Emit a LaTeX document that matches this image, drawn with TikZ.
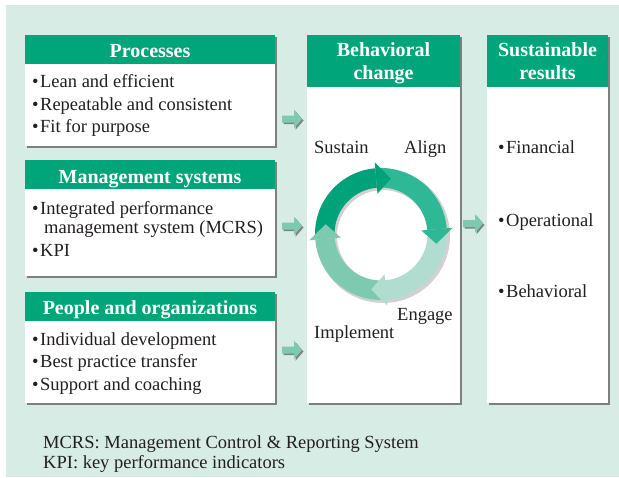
\documentclass[tikz,border=0pt]{standalone}
\usepackage{fontspec}
\setmainfont{Liberation Serif}
\usetikzlibrary{shadows}
\definecolor{bgc}{RGB}{215,236,229}
\definecolor{hdr}{RGB}{0,165,122}
\definecolor{arr}{RGB}{126,202,176}
\definecolor{cA}{RGB}{0,162,122}
\definecolor{cB}{RGB}{46,184,150}
\definecolor{cC}{RGB}{177,221,208}
\definecolor{cD}{RGB}{126,202,176}
\definecolor{txt}{RGB}{35,31,32}
\newcommand{\mybul}{\textbullet\hspace{1.5pt}}
\newcommand{\smarrowpath}{(0,-3.5) -- (12,-3.5) -- (12,-9.3) -- (20,0) -- (12,9.3) -- (12,3.5) -- (0,3.5) -- cycle}
\begin{document}
\begin{tikzpicture}[x=1pt,y=-1pt,
  bodybox/.style={fill=white, draw=none, inner sep=0, outer sep=0, anchor=north west,
    drop shadow={shadow xshift=2pt,shadow yshift=-2pt,fill=black!60,opacity=.8}},
  hdrbox/.style={fill=hdr, draw=none, inner sep=0, outer sep=0, anchor=north west},
  hdrtext/.style={text=white, font=\fontsize{20}{22}\selectfont\bfseries, inner sep=0, anchor=base},
  item/.style={text=txt, font=\fontsize{18.5}{22.7}\selectfont, inner sep=0, anchor=base west},
  smallarrow/.style={fill=arr, draw=none,
    drop shadow={shadow xshift=1.5pt,shadow yshift=-1.5pt,fill=black!65,opacity=.7}},
]
\useasboundingbox (0,0) rectangle (619,477);
\fill[bgc] (6,5) rectangle (619,477);

% boxes
\node[bodybox, minimum width=250pt, minimum height=111pt] (pbody) at (25,35) {};
\node[hdrbox, minimum width=250pt, minimum height=29pt] (phdr) at (25,35) {};
\node[bodybox, minimum width=250pt, minimum height=116pt] (mbody) at (25,160) {};
\node[hdrbox, minimum width=250pt, minimum height=29pt] (mhdr) at (25,160) {};
\node[bodybox, minimum width=250pt, minimum height=111pt] (obody) at (25,292) {};
\node[hdrbox, minimum width=250pt, minimum height=29pt] (ohdr) at (25,292) {};
\node[bodybox, minimum width=153pt, minimum height=368pt] (bbody) at (307,35) {};
\node[hdrbox, minimum width=153pt, minimum height=52pt] (bhdr) at (307,35) {};
\node[bodybox, minimum width=121pt, minimum height=368pt] (sbody) at (487,35) {};
\node[hdrbox, minimum width=121pt, minimum height=52pt] (shdr) at (487,35) {};

% headers
\node[hdrtext] (tp) at (150,57) {Processes};
\node[hdrtext] (tm) at (150,183.3) {Management systems};
\node[hdrtext] (to) at (150,314) {People and organizations};
\node[hdrtext] (tb1) at (383.5,56.7) {Behavioral};
\node[hdrtext] (tb2) at (383.5,79) {change};
\node[hdrtext] (ts1) at (547.5,56.7) {Sustainable};
\node[hdrtext] (ts2) at (547.5,79) {results};

% items
\node[item] (p1) at (32,87.3) {\mybul Lean and efficient};
\node[item] (p2) at (32,110) {\mybul Repeatable and consistent};
\node[item] (p3) at (32,132.7) {\mybul Fit for purpose};
\node[item] (m1) at (32,214) {\mybul Integrated performance};
\node[item] (m2) at (44,233.3) {management system (MCRS)};
\node[item] (m3) at (32,256) {\mybul KPI};
\node[item] (o1) at (32,345) {\mybul Individual development};
\node[item] (o2) at (32,367.3) {\mybul Best practice transfer};
\node[item] (o3) at (32,390.7) {\mybul Support and coaching};
\node[item] (r1) at (498,153) {\mybul Financial};
\node[item] (r2) at (498,226) {\mybul Operational};
\node[item] (r3) at (498,297.3) {\mybul Behavioral};

% cycle labels
\node[item] (lsus) at (314,153.3) {Sustain};
\node[item] (lali) at (404,153.3) {Align};
\node[item] (leng) at (397,320) {Engage};
\node[item] (limp) at (314,338.3) {Implement};

% footnotes
\node[item] (f1) at (43,448.3) {MCRS: Management Control \& Reporting System};
\node[item] (f2) at (43,468.3) {KPI: key performance indicators};

% small arrows
\fill[smallarrow, shift={(282,119)}] \smarrowpath;
\fill[smallarrow, shift={(282,226)}] \smarrowpath;
\fill[smallarrow, shift={(282,350)}] \smarrowpath;
\fill[smallarrow, shift={(463,223.5)}] \smarrowpath;

% cycle
\begin{scope}[shift={(381,234)}, y=1pt]
  \fill[black, opacity=.18, even odd rule] (2,-2) circle (67) (2,-2) circle (46);
  % bodies
  \fill[cA] (182:66) arc (182:95:66) -- (95:46.5) arc (95:182:46.5) -- cycle;
  \fill[cB] (92:66) arc (92:5:66) -- (5:46.5) arc (5:92:46.5) -- cycle;
  \fill[cC] (2:66) arc (2:-85:66) -- (-85:46.5) arc (-85:2:46.5) -- cycle;
  \fill[cD] (-88:66) arc (-88:-175:66) -- (-175:46.5) arc (-175:-88:46.5) -- cycle;
  % heads
  \fill[cA] (95:72) -- (80:56.25) -- (95:40.5) -- cycle;
  \fill[cB] (5:72) -- (-10:56.25) -- (5:40.5) -- cycle;
  \fill[cC] (-85:72) -- (-100:56.25) -- (-85:40.5) -- cycle;
  \fill[cD] (-175:72) -- (-190:56.25) -- (-175:40.5) -- cycle;
\end{scope}
\end{tikzpicture}
\end{document}
